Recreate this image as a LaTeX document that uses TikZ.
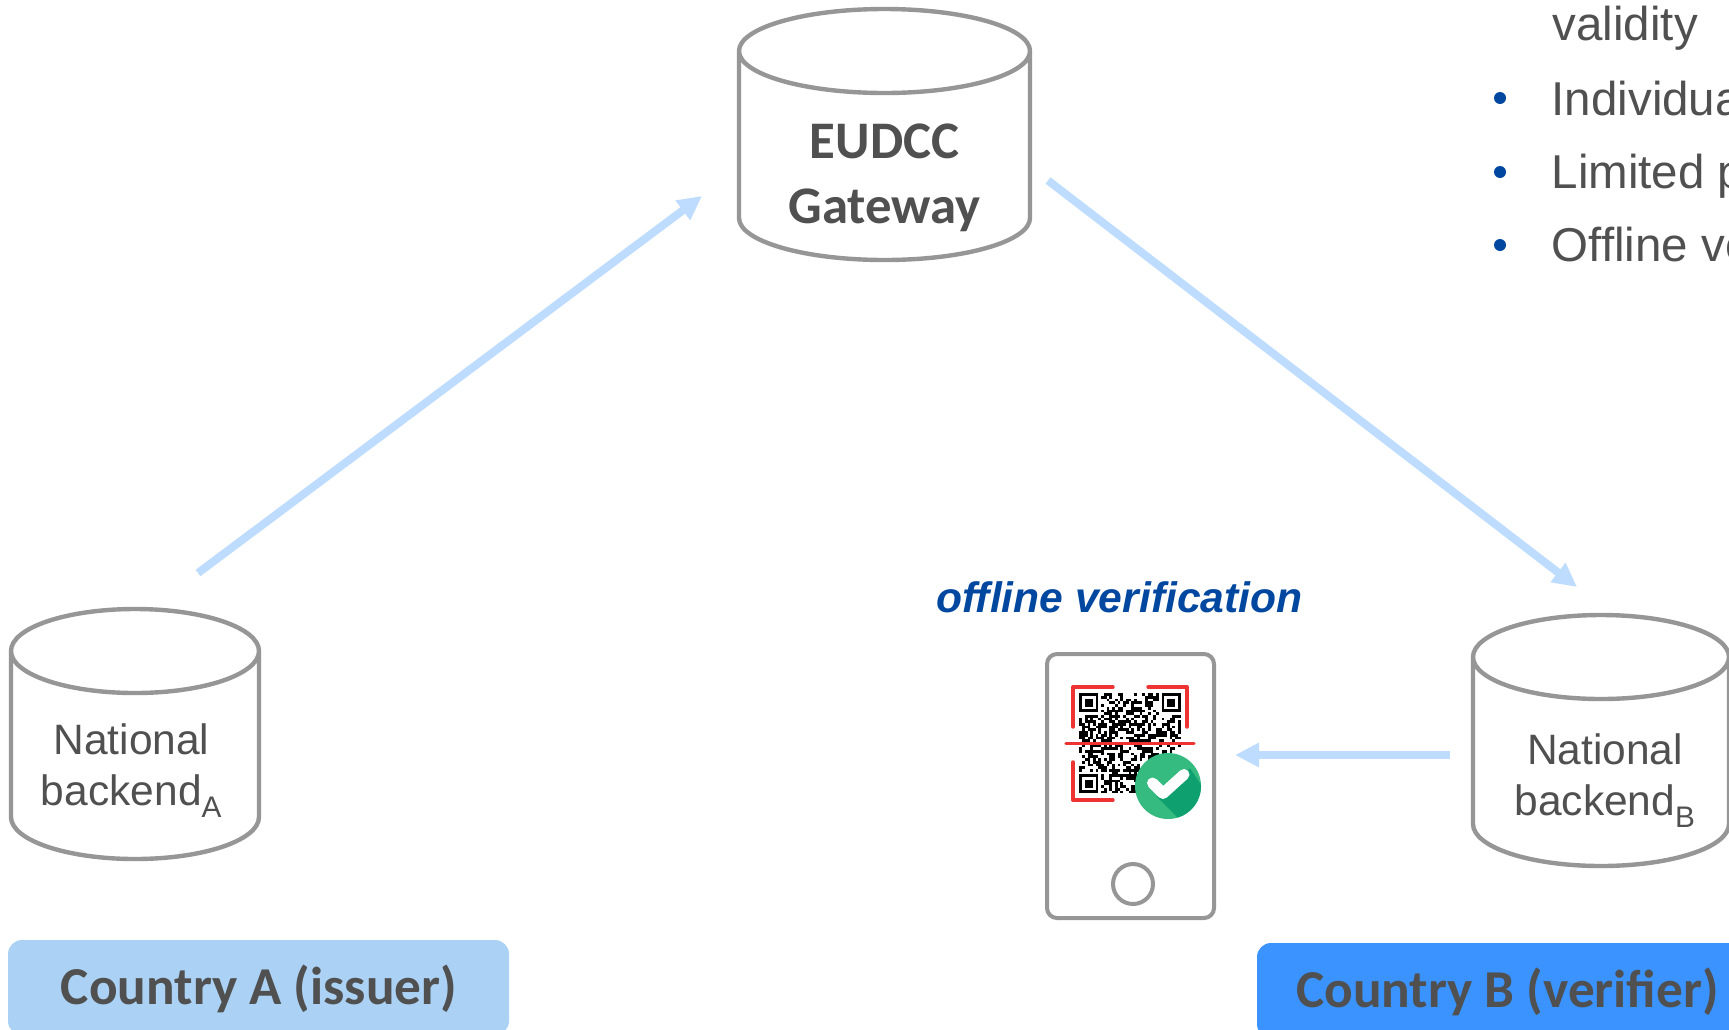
\documentclass[tikz,border=0pt]{standalone}
\usepackage{fontspec}
\setmainfont{Liberation Sans}
\newfontfamily\carlito{Carlito}
\usetikzlibrary{arrows.meta}
\definecolor{txt}{HTML}{505050}
\definecolor{edge}{HTML}{969696}
\definecolor{flow}{HTML}{BDDCFF}
\definecolor{navy}{HTML}{0047A0}
\definecolor{boxa}{HTML}{ABD2F4}
\definecolor{boxb}{HTML}{3B93FF}
\definecolor{redq}{HTML}{EE3333}
\definecolor{okg}{HTML}{35BB80}
\definecolor{okd}{HTML}{0FA070}
\tikzset{
  drumbox/.style={inner sep=0pt,outer sep=0pt},
  drumline/.style={draw=edge,line width=4.4pt,fill=white},
  flowline/.style={draw=flow,line width=8pt,-{Triangle[length=24pt,width=23pt]}},
  body/.style={text=txt,align=center,font=\fontsize{42.5}{51}\selectfont},
  gwlabel/.style={text=txt,align=center,font=\carlito\bfseries\fontsize{52.8}{65}\selectfont},
  country/.style={rounded corners=14pt,text=txt,inner sep=0pt,font=\carlito\bfseries\fontsize{53.3}{60}\selectfont},
  listtext/.style={text=txt,anchor=base west,inner sep=0pt,font=\fontsize{47.5}{56}\selectfont},
  dotmark/.style={circle,fill=navy,minimum size=12pt,inner sep=0pt},
  redline/.style={draw=redq,line width=3.4pt,line cap=round,line join=round},
}
% #1 node name, #2 half width, #3 ellipse y radius
\newcommand{\drumshape}[3]{%
  \draw[drumline] ([yshift=-#3]#1.north west)
    arc[start angle=180,end angle=-180,x radius=#2,y radius=#3]
    -- ([yshift=#3]#1.south west)
    arc[start angle=180,end angle=360,x radius=#2,y radius=#3]
    -- ([yshift=-#3]#1.north east);
}
\begin{document}
\begin{tikzpicture}[x=1pt,y=-1pt]
\clip (0,0) rectangle (1729,1029);
\useasboundingbox (0,0) rectangle (1729,1029);
\fill[white] (0,0) rectangle (1729,1029);
% cylinders
\node[drumbox,minimum width=291pt,minimum height=251pt] (gw) at (884.5,134.5) {};
\drumshape{gw}{145.5pt}{42pt}
\node[gwlabel] (gwt) at (884.5,178) {EUDCC\\Gateway};
\node[drumbox,minimum width=248pt,minimum height=250pt] (na) at (135,734) {};
\drumshape{na}{124pt}{42pt}
\node[body] (nat) at (131.5,770.5) {National\\backend\textsubscript{A}};
\node[drumbox,minimum width=256pt,minimum height=251pt] (nb) at (1601,740.5) {};
\drumshape{nb}{128pt}{42pt}
\node[body] (nbt) at (1605,780.5) {National\\backend\textsubscript{B}};
% phone
\node[draw=edge,line width=4pt,rounded corners=10pt,minimum width=167pt,minimum height=264pt,inner sep=0pt,outer sep=0pt] (phone) at (1130.5,786) {};
\node[draw=edge,line width=4pt,circle,minimum size=40pt,inner sep=0pt] (home) at (1133,884) {};
% qr
\pgfmathsetseed{4711}
\foreach \i in {0,...,36}{
  \foreach \j in {0,...,36}{
    \pgfmathrandominteger{\r}{0}{1}
    \pgfmathtruncatemacro\keep{(\r==1)&&!((\i<8)&&(\j<8))&&!((\i>28)&&(\j<8))&&!((\i<8)&&(\j>28))}
    \ifnum\keep=1
      \fill[black] ({1079.3+\i*2.74},{693.3+\j*2.7}) rectangle ++(2.74,2.7);
    \fi
  }
}
\foreach \fx/\fy in {1079.3/693.3,1161.5/693.3,1079.3/774.3}{
  \draw[black,line width=2.7pt] (\fx+1.35,\fy+1.35) rectangle (\fx+17.8,\fy+17.5);
  \fill[black] (\fx+5.5,\fy+5.4) rectangle (\fx+13.7,\fy+13.5);
}
\draw[redline] (1113,687) -- (1073,687) -- (1073,727);
\draw[redline] (1148,687) -- (1187,687) -- (1187,727);
\draw[redline] (1073,762) -- (1073,800) -- (1113,800);
\draw[redline] (1066,743.7) -- (1194,743.7);
% check badge
\node[circle,fill=okg,minimum size=66pt,inner sep=0pt,outer sep=0pt] (ok) at (1168,786) {};
\begin{scope}
\clip (1168,786) circle (33);
\fill[okd] (1156.7,796.7) -- (1186.7,826.7) -- (1220,813) -- (1190,768.3) -- cycle;
\end{scope}
\draw[white,line width=11pt,line cap=round,line join=round] (1152.5,783) -- (1163,793.5) -- (1184,774.5);
% text
\node[text=navy,font=\bfseries\itshape\fontsize{42.6}{50}\selectfont,inner sep=0pt] (off) at (1119.5,597) {offline verification};
\node[listtext] (l1) at (1552.5,40) {validity};
\node[dotmark] (d2) at (1500,98) {};
\node[listtext] (l2) at (1551.5,115) {Individua};
\node[dotmark] (d3) at (1500,172) {};
\node[listtext] (l3) at (1551.5,188) {Limited p};
\node[dotmark] (d4) at (1500,245) {};
\node[listtext] (l4) at (1551.5,261) {Offline ve};
% arrows
\draw[flowline] ([xshift=63pt,yshift=36pt]na.north) -- ([xshift=-182.5pt,yshift=-61.5pt]gw.center);
\draw[flowline] ([xshift=163.5pt,yshift=-46pt]gw.center) -- ([xshift=-24pt,yshift=28pt]nb.north);
\draw[flowline] ([xshift=-151pt,yshift=-14.5pt]nb.center) -- ([xshift=104.5pt,yshift=31pt]phone.center);
% country boxes
\node[country,fill=boxa,minimum width=501pt,minimum height=95pt] (ca) at (258.5,987.5) {};
\node[country,text=txt] (cat) at (259,989) {Country A (issuer)};
\node[country,fill=boxb,minimum width=498pt,minimum height=95pt] (cb) at (1506,990.5) {};
\node[country,text=txt] (cbt) at (1507.5,992) {Country B (verifier)};
\end{tikzpicture}
\end{document}
